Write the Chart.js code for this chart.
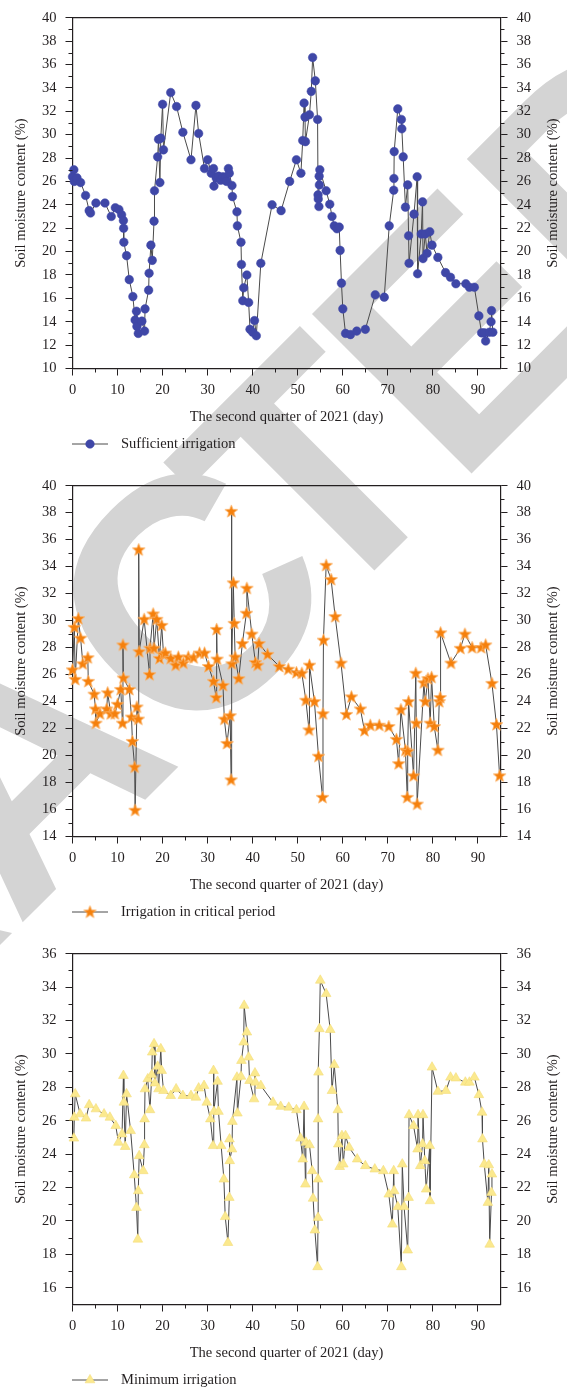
<!DOCTYPE html>
<html>
<head>
<meta charset="utf-8">
<script src="https://cdn.jsdelivr.net/npm/chart.js@4.4.1/dist/chart.umd.min.js"></script>
<style>
  html, body { margin: 0; padding: 0; background: #fff; width: 567px; height: 1391px; overflow: hidden; }
  .panel { position: absolute; left: 0; width: 567px; height: 468px; }
  #stamp { position: absolute; left: 0; top: 0; }
</style>
</head>
<body>
<canvas id="stamp" width="567" height="1391"></canvas>
<div class="panel" style="top:0px"><canvas id="c1" width="567" height="468"></canvas></div>
<div class="panel" style="top:468px"><canvas id="c2" width="567" height="468"></canvas></div>
<div class="panel" style="top:936px"><canvas id="c3" width="567" height="455"></canvas></div>
<script>
// ---- Sufficient irrigation ----
const days1 = [0.0, 0.3, 0.4, 1.0, 1.8, 2.9, 3.7, 4.0, 5.2, 7.2, 8.6, 9.5, 10.3, 10.9, 11.3, 11.35, 11.4, 12.0, 12.6, 13.4,
  13.9, 14.2, 14.3, 14.6, 15.4, 16.0, 16.1, 16.9, 17.0, 17.4, 17.7, 18.1, 18.2, 18.9, 19.1, 19.4, 19.6, 20.0, 20.2, 21.8,
  23.1, 24.5, 26.3, 27.4, 28.0, 29.3, 30.0, 30.8, 31.3, 31.4, 31.9, 32.4, 32.9, 33.4, 33.9, 34.2, 34.6, 34.8, 35.4, 35.5,
  36.5, 36.6, 37.4, 37.5, 37.8, 38.0, 38.7, 39.1, 39.4, 40.0, 40.4, 40.8, 41.8, 44.3, 46.3, 48.2, 49.7, 50.7, 51.1, 51.4,
  51.6, 51.7, 52.6, 53.0, 53.3, 53.9, 54.4, 54.5, 54.55, 54.7, 54.75, 54.8, 54.9, 56.3, 57.1, 57.6, 58.1, 58.7, 59.2, 59.4,
  59.7, 60.0, 60.6, 61.7, 63.1, 65.0, 67.2, 69.2, 70.3, 71.3, 71.35, 71.4, 72.2, 73.0, 73.1, 73.4, 73.9, 74.4, 74.6, 74.7,
  75.8, 76.5, 76.6, 77.4, 77.7, 77.8, 78.3, 78.7, 79.3, 79.8, 81.1, 82.8, 83.9, 85.1, 87.3, 88.1, 89.2, 90.2, 90.8, 91.4,
  91.7, 92.5, 92.9, 93.0, 93.3];
const soil1 = [26.4, 27.0, 26.0, 26.3, 25.9, 24.8, 23.5, 23.3, 24.15, 24.15, 23.0, 23.75, 23.6, 23.15, 22.65, 22.0, 20.8, 19.65, 17.6, 16.15,
  14.15, 14.9, 13.6, 13.0, 14.05, 13.2, 15.1, 16.7, 18.15, 20.55, 19.25, 22.6, 25.2, 28.1, 29.6, 25.9, 29.7, 32.6, 28.7, 33.6,
  32.4, 30.2, 27.85, 32.5, 30.1, 27.1, 27.85, 26.7, 27.1, 25.6, 26.3, 26.45, 26.1, 26.4, 26.3, 26.0, 27.1, 26.7, 25.65, 24.7,
  23.4, 22.2, 20.8, 18.9, 15.8, 16.9, 18.0, 15.65, 13.35, 13.1, 14.1, 12.8, 19.0, 24.0, 23.5, 26.0, 27.85, 26.7, 29.5, 32.7,
  31.5, 29.4, 31.7, 33.7, 36.6, 34.6, 31.3, 24.85, 24.5, 23.85, 26.45, 25.7, 27.0, 25.2, 24.05, 23.0, 22.2, 21.95, 22.1, 20.1,
  17.3, 15.1, 13.0, 12.9, 13.2, 13.35, 16.3, 16.1, 22.2, 25.25, 26.25, 28.55, 32.2, 31.3, 30.5, 28.1, 23.8, 25.7, 21.35, 19.0,
  23.2, 26.4, 18.1, 21.5, 24.25, 19.4, 21.5, 19.85, 21.7, 20.55, 19.5, 18.2, 17.8, 17.25, 17.25, 16.95, 16.95, 14.5, 13.05, 13.05,
  12.35, 13.1, 14.0, 14.95, 13.1];

// ---- Irrigation in critical period ----
const days2 = [0.0, 0.4, 0.6, 1.3, 1.8, 2.3, 3.4, 3.5, 4.8, 5.1, 5.2, 6.1, 7.6, 7.8, 8.5, 9.4, 10.0, 10.7, 11.1, 11.2,
  11.3, 12.6, 13.1, 13.3, 13.8, 13.9, 14.3, 14.6, 14.7, 14.8, 15.9, 17.1, 17.2, 17.9, 18.1, 18.7, 19.3, 19.8, 20.2, 20.6,
  21.8, 22.9, 23.5, 24.6, 25.7, 26.9, 28.2, 29.3, 30.2, 31.3, 31.9, 32.0, 32.1, 33.4, 33.7, 34.3, 35.0, 35.2, 35.25, 35.4,
  35.7, 35.9, 36.1, 36.9, 37.7, 38.6, 38.7, 39.8, 40.6, 41.1, 41.4, 43.3, 45.9, 47.9, 49.7, 50.9, 51.8, 52.5, 52.6, 53.7,
  54.6, 55.5, 55.6, 55.7, 56.3, 57.4, 58.3, 59.6, 60.8, 61.9, 63.9, 64.8, 66.1, 68.1, 70.2, 71.9, 72.4, 72.9, 73.9, 74.3,
  74.4, 74.6, 75.7, 76.2, 76.3, 76.5, 78.0, 78.3, 78.9, 79.4, 79.7, 80.3, 81.1, 81.4, 81.6, 81.7, 84.0, 86.1, 87.1, 88.7,
  90.7, 91.7, 93.1, 94.1, 94.8];
const soil2 = [26.35, 29.5, 25.65, 30.15, 28.7, 26.8, 27.25, 25.5, 24.55, 23.45, 22.4, 23.1, 23.45, 24.65, 23.1, 23.1, 23.8, 24.9, 22.4, 28.2,
  25.75, 24.9, 22.85, 21.05, 19.15, 15.95, 23.6, 22.7, 35.25, 27.7, 30.1, 26.0, 27.95, 30.5, 27.95, 30.1, 27.2, 29.65, 27.5, 27.6,
  27.2, 26.7, 27.3, 26.85, 27.3, 27.25, 27.6, 27.6, 26.6, 25.5, 24.3, 29.35, 27.15, 25.2, 22.7, 20.9, 22.95, 18.2, 38.1, 26.8,
  32.8, 29.8, 27.3, 25.7, 28.3, 30.55, 32.4, 29.0, 26.9, 26.7, 28.3, 27.5, 26.6, 26.4, 26.15, 26.1, 24.1, 21.9, 26.7, 24.0,
  19.95, 16.9, 23.1, 28.55, 34.1, 33.05, 30.3, 26.85, 23.05, 24.35, 23.45, 21.85, 22.25, 22.25, 22.15, 21.2, 19.4, 23.4, 20.4, 16.9,
  20.3, 24.0, 18.5, 26.1, 22.4, 16.4, 25.4, 24.0, 25.7, 22.4, 25.8, 22.15, 20.4, 24.0, 24.3, 29.1, 26.85, 27.95, 29.0, 28.0,
  28.0, 28.2, 25.35, 22.3, 18.5];

// ---- Minimum irrigation ----
const days3 = [0.3, 0.4, 0.6, 1.7, 3.0, 3.7, 5.2, 7.0, 8.3, 9.6, 10.2, 11.0, 11.3, 11.4, 11.7, 12.0, 12.9, 13.7, 14.2, 14.5,
  14.6, 14.8, 15.7, 15.95, 16.0, 16.1, 16.7, 17.2, 17.6, 17.7, 18.1, 18.3, 18.9, 19.1, 19.6, 19.8, 20.2, 21.8, 23.0, 24.5,
  26.3, 27.4, 28.0, 29.2, 29.8, 30.6, 31.2, 31.3, 31.4, 32.2, 32.4, 33.0, 33.6, 33.9, 34.5, 34.8, 34.85, 34.9, 35.4, 35.5,
  36.5, 36.6, 37.4, 37.5, 38.0, 38.1, 38.7, 39.1, 39.3, 40.3, 40.5, 40.6, 41.8, 44.5, 46.2, 48.0, 49.7, 50.6, 51.1, 51.4,
  51.7, 51.8, 52.6, 53.2, 53.4, 53.8, 54.4, 54.5, 54.5, 54.5, 54.6, 54.8, 55.0, 56.3, 57.2, 57.6, 58.1, 58.9, 59.0, 59.3,
  59.8, 60.1, 60.6, 61.4, 63.2, 65.0, 67.1, 69.0, 70.2, 71.0, 71.3, 71.4, 72.2, 73.0, 73.2, 73.6, 74.4, 74.6, 74.7, 75.7,
  76.6, 76.7, 77.2, 77.7, 77.8, 78.2, 78.5, 79.3, 79.35, 79.8, 81.1, 82.9, 83.9, 85.1, 87.2, 88.1, 89.2, 90.2, 90.9, 91.0,
  91.4, 92.2, 92.4, 92.6, 93.0, 93.1];
const soil3 = [24.95, 26.2, 27.6, 26.4, 26.15, 26.95, 26.7, 26.4, 26.2, 25.7, 24.7, 25.2, 28.7, 27.1, 24.45, 27.6, 25.4, 22.75, 20.8, 18.9,
  21.8, 23.9, 23.0, 24.55, 26.1, 27.9, 28.5, 26.65, 28.75, 30.1, 30.6, 28.25, 29.25, 27.9, 30.3, 29.0, 27.8, 27.5, 27.9, 27.5,
  27.5, 27.4, 27.95, 28.1, 27.1, 26.1, 24.5, 29.0, 26.55, 28.35, 26.55, 24.5, 22.5, 20.25, 18.7, 21.4, 24.9, 23.6, 24.3, 25.95,
  28.6, 26.45, 28.65, 29.6, 30.7, 32.9, 31.3, 29.8, 28.4, 27.3, 28.85, 28.3, 28.1, 27.1, 26.85, 26.8, 26.65, 24.95, 23.7, 26.85,
  22.2, 24.7, 24.55, 23.0, 21.35, 19.45, 17.25, 20.2, 22.5, 26.1, 28.9, 31.5, 34.4, 33.6, 31.45, 27.8, 29.35, 26.65, 24.6, 23.25,
  25.1, 23.4, 25.1, 24.4, 23.7, 23.3, 23.1, 23.0, 21.6, 19.8, 23.0, 21.8, 20.85, 17.25, 23.4, 20.85, 18.25, 21.4, 26.35, 25.7,
  24.3, 26.35, 23.3, 24.6, 26.35, 23.6, 21.9, 24.5, 21.2, 29.2, 27.75, 27.8, 28.6, 28.55, 28.3, 28.3, 28.6, 27.55, 26.5, 24.9,
  23.4, 21.1, 23.35, 18.6, 21.7, 22.8];

// ---- axis ticks and labels ----
const xMajorTicks = [0, 10, 20, 30, 40, 50, 60, 70, 80, 90];
const yRange1 = [10, 40];
const yRange2 = [14, 40];
const yRange3 = [15, 36];
const xTitle = 'The second quarter of 2021 (day)';
const yTitle = 'Soil moisture content (%)';
const seriesNames = ['Sufficient irrigation', 'Irrigation in critical period', 'Minimum irrigation'];

// grey diagonal stamp: letters and their offsets along the slanted baseline
const stampLetters = ['R', 'E', 'T', 'R', 'A', 'C', 'T', 'E', 'D'];
const stampOffsets = [-1550, -1313, -1094, -882, -645, -408, -216, -24, 195];

const INK = '#231f20';
const LINE = '#4a4a4a';
const FONT = "'Liberation Serif', 'Times New Roman', serif";

(function drawStamp() {
  const g = document.getElementById('stamp').getContext('2d');
  g.save();
  g.translate(473, 472);
  g.rotate(-45 * Math.PI / 180);
  g.font = "bold 328px 'Liberation Sans', Arial, sans-serif";
  g.fillStyle = '#d4d4d4';
  g.textAlign = 'left';
  g.textBaseline = 'alphabetic';
  stampLetters.forEach((ch, i) => g.fillText(ch, stampOffsets[i], 0));
  g.restore();
})();

// filled five-pointed star used as a marker
function makeStar() {
  const c = document.createElement('canvas');
  c.width = 15; c.height = 15;
  const g = c.getContext('2d');
  const cx = 7.5, cy = 7.8, R = 6.6, r = 2.8;
  g.beginPath();
  for (let i = 0; i < 10; i++) {
    const rad = i % 2 === 0 ? R : r;
    const a = -Math.PI / 2 + i * Math.PI / 5;
    const px = cx + rad * Math.cos(a), py = cy + rad * Math.sin(a);
    if (i === 0) g.moveTo(px, py); else g.lineTo(px, py);
  }
  g.closePath();
  g.fillStyle = '#f5800c';
  g.fill();
  g.lineWidth = 0.8;
  g.strokeStyle = '#fbb063';
  g.stroke();
  return c;
}
const starImg = makeStar();

const styles = [
  { pointStyle: 'circle', radius: 4.3, bg: '#3f47a7', border: '#3f47a7', borderW: 0.5 },
  { pointStyle: starImg, radius: 7, bg: '#f5800c', border: '#f5800c', borderW: 0 },
  { pointStyle: 'triangle', radius: 5.6, bg: '#fbe98e', border: '#f3dc7a', borderW: 0.6 }
];

function majorY(range) {
  const out = [];
  for (let v = range[0]; v <= range[1]; v++) if (v % 2 === 0) out.push(v);
  return out;
}

// small (minor) ticks, right-hand axis title and legend row
const extras = {
  id: 'extras',
  afterDraw(chart, args, opts) {
    const { ctx, chartArea: a } = chart;
    const xs = chart.scales.x, ys = chart.scales.y;
    ctx.save();
    ctx.strokeStyle = INK;
    ctx.lineWidth = 1;
    ctx.beginPath();
    for (let v = 5; v < 95; v += 10) {
      const p = Math.round(xs.getPixelForValue(v)) + 0.5;
      ctx.moveTo(p, a.bottom); ctx.lineTo(p, a.bottom + 4);
    }
    for (let v = Math.ceil(ys.min) + 1; v < ys.max; v++) {
      if (v % 2 === 0) continue;
      const p = Math.round(ys.getPixelForValue(v)) + 0.5;
      ctx.moveTo(a.left - 4, p); ctx.lineTo(a.left, p);
      ctx.moveTo(a.right, p); ctx.lineTo(a.right + 4, p);
    }
    ctx.stroke();

    // right axis title, reading bottom to top
    ctx.save();
    ctx.translate(553, (a.top + a.bottom) / 2);
    ctx.rotate(-Math.PI / 2);
    ctx.fillStyle = INK;
    ctx.font = '14.5px ' + FONT;
    ctx.textAlign = 'center';
    ctx.textBaseline = 'middle';
    ctx.fillText(yTitle, 0, 0);
    ctx.restore();

    // legend
    const ly = 444;
    ctx.strokeStyle = LINE;
    ctx.lineWidth = 1;
    ctx.beginPath();
    ctx.moveTo(72, ly); ctx.lineTo(108, ly);
    ctx.stroke();
    const st = styles[opts.idx];
    ctx.fillStyle = st.bg;
    ctx.strokeStyle = st.border;
    ctx.lineWidth = st.borderW;
    Chart.helpers.drawPoint(ctx, { pointStyle: st.pointStyle, radius: st.radius, borderWidth: st.borderW, rotation: 0 }, 90, ly);
    ctx.fillStyle = INK;
    ctx.font = '14.5px ' + FONT;
    ctx.textAlign = 'left';
    ctx.textBaseline = 'middle';
    ctx.fillText(seriesNames[opts.idx], 121, ly);
    ctx.restore();
  }
};

function makeChart(id, idx, days, soil, range, canvasH) {
  const st = styles[idx];
  const pts = days.map((d, i) => ({ x: d, y: soil[i] }));
  const yMajor = majorY(range);
  const axisFont = { family: FONT, size: 14.5 };
  return new Chart(document.getElementById(id), {
    type: 'line',
    data: {
      datasets: [{
        label: seriesNames[idx],
        data: pts,
        borderColor: LINE,
        borderWidth: 1,
        tension: 0,
        fill: false,
        clip: false,
        pointStyle: st.pointStyle,
        pointRadius: st.radius,
        pointBackgroundColor: st.bg,
        pointBorderColor: st.border,
        pointBorderWidth: st.borderW,
        xAxisID: 'x',
        yAxisID: 'y'
      }]
    },
    options: {
      responsive: false,
      animation: false,
      events: [],
      layout: { padding: { top: 0, left: 0, right: 0, bottom: canvasH - 428.5 } },
      plugins: { legend: { display: false }, tooltip: { enabled: false }, extras: { idx } },
      scales: {
        x: {
          type: 'linear', position: 'bottom', min: 0, max: 95,
          afterBuildTicks: s => { s.ticks = xMajorTicks.map(v => ({ value: v })); },
          afterFit: s => { s.height = 60; },
          grid: { drawOnChartArea: false, drawTicks: true, tickLength: 7, tickColor: INK, tickWidth: 1 },
          border: { display: true, color: INK, width: 1.2 },
          ticks: { font: axisFont, color: INK, padding: 6, maxRotation: 0, autoSkip: false },
          title: { display: true, text: xTitle, font: axisFont, color: INK, padding: { top: 0, bottom: 3 } }
        },
        xTop: {
          type: 'linear', position: 'top', min: 0, max: 95,
          afterFit: s => { s.height = 12.5; },
          grid: { display: false },
          border: { display: true, color: INK, width: 1.2 },
          ticks: { display: false }
        },
        y: {
          type: 'linear', position: 'left', min: range[0], max: range[1],
          afterBuildTicks: s => { s.ticks = yMajor.map(v => ({ value: v })); },
          afterFit: s => { s.width = 72.5; },
          grid: { drawOnChartArea: false, drawTicks: true, tickLength: 7, tickColor: INK, tickWidth: 1 },
          border: { display: true, color: INK, width: 1.2 },
          ticks: { font: axisFont, color: INK, padding: 9 },
          title: { display: true, text: yTitle, font: axisFont, color: INK, padding: { top: 12.5, bottom: 0 } }
        },
        y2: {
          type: 'linear', position: 'right', min: range[0], max: range[1],
          afterBuildTicks: s => { s.ticks = yMajor.map(v => ({ value: v })); },
          afterFit: s => { s.width = 567 - 500.5; },
          grid: { drawOnChartArea: false, drawTicks: true, tickLength: 7, tickColor: INK, tickWidth: 1 },
          border: { display: true, color: INK, width: 1.2 },
          ticks: { font: axisFont, color: INK, padding: 9 }
        }
      }
    },
    plugins: [extras]
  });
}

makeChart('c1', 0, days1, soil1, yRange1, 468);
makeChart('c2', 1, days2, soil2, yRange2, 468);
makeChart('c3', 2, days3, soil3, yRange3, 455);
</script>
</body>
</html>
